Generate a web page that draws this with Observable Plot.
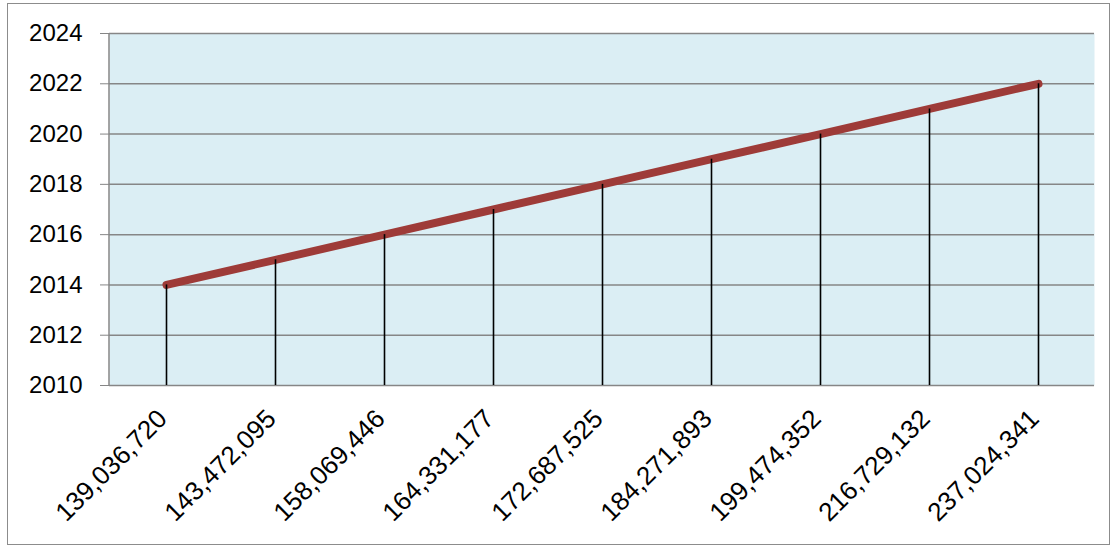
<!DOCTYPE html>
<html>
<head>
<meta charset="utf-8">
<script src="https://cdn.jsdelivr.net/npm/d3@7"></script>
<script src="https://cdn.jsdelivr.net/npm/@observablehq/plot@0.6"></script>
<style>
  html, body { margin: 0; padding: 0; background: #fff; }
  #wrap { position: relative; width: 1117px; height: 547px; }
  #border { position: absolute; left: 7px; top: 3px; width: 1101px; height: 540px; border: 1.5px solid #8c8c8c; pointer-events: none; }
</style>
</head>
<body>
<div id="wrap"><div id="border"></div></div>
<script>
const populations = [139036720, 143472095, 158069446, 164331177, 172687525, 184271893, 199474352, 216729132, 237024341];
const years = [2014, 2015, 2016, 2017, 2018, 2019, 2020, 2021, 2022];
const yTicks = [2010, 2012, 2014, 2016, 2018, 2020, 2022, 2024];

const fmt = d3.format(",");
const labels = populations.map(fmt);
const data = labels.map((label, i) => ({label, year: years[i]}));

const chart = Plot.plot({
  width: 1117,
  height: 547,
  marginLeft: 109,
  marginRight: 23,
  marginTop: 33,
  marginBottom: 162,
  style: {fontFamily: "'Liberation Sans', Arial, sans-serif", fontSize: "24px", color: "#000", background: "transparent"},
  x: {type: "point", domain: labels, range: [163, 1040], padding: 0, label: null},
  y: {domain: [2010, 2024], label: null},
  marks: [
    Plot.frame({fill: "#dbeef4", stroke: null}),
    Plot.ruleY(yTicks, {stroke: "#868686", strokeWidth: 1.5}),
    Plot.line(data, {x: "label", y: "year", stroke: "#9e3b38", strokeWidth: 8, strokeLinecap: "round", strokeLinejoin: "round"}),
    Plot.ruleX(data, {x: "label", y1: 2010, y2: "year", stroke: "#000", strokeWidth: 1.6}),
    Plot.axisY({ticks: yTicks, tickSize: 9, tickPadding: 18, stroke: "#868686", tickFormat: d => String(d), fontSize: 24}),
    Plot.axisX({tickSize: 0, tickRotate: -45, tickPadding: 29, dx: -4, fontSize: 26}),
  ]
});
const svg = d3.select(chart);
svg.append("line").attr("x1", 109).attr("x2", 109).attr("y1", 33).attr("y2", 385).attr("stroke", "#868686").attr("stroke-width", 1.5);
document.getElementById("wrap").prepend(chart);
</script>
</body>
</html>
